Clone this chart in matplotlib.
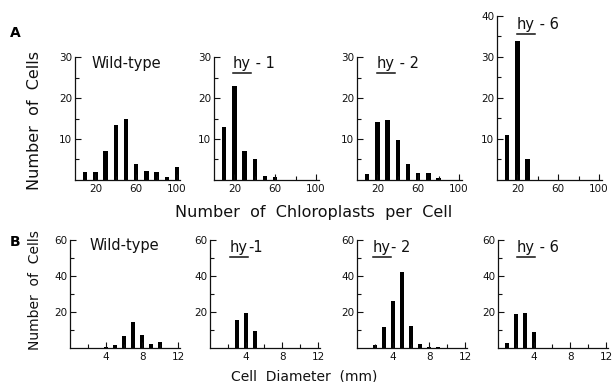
import numpy as np
import matplotlib
matplotlib.use("Agg")
import matplotlib.pyplot as plt
from matplotlib.lines import Line2D

# chloroplast number histograms (bins of 10)
chloro_bins = [10, 20, 30, 40, 50, 60, 70, 80, 90, 100]
wt_chloro = [2, 2, 7, 13.3, 15, 4, 2.3, 2, 0.8, 3.1]
hy1_chloro = [13, 23, 7, 5, 1, 0.8, 0, 0, 0, 0]
hy2_chloro = [1.5, 14.1, 14.7, 9.8, 3.9, 1.6, 1.6, 0.5, 0, 0]
hy6_chloro = [11, 34, 5, 0, 0, 0, 0, 0, 0, 0]

# cell diameter histograms
diam_bins = [1, 2, 3, 4, 5, 6, 7, 8, 9, 10, 11, 12]
wt_diam = [0, 0, 0, 0.4, 1.9, 6.5, 14.4, 7.4, 2.2, 3.1, 0, 0]
hy1_diam = [0, 0, 15.7, 19.4, 9.3, 0, 0, 0, 0, 0, 0, 0]
hy2_diam = [0, 1.5, 11.5, 26.3, 42, 12.4, 2.4, 0.5, 0.5, 0, 0, 0]
hy6_diam = [2.8, 19, 19.6, 8.7, 0, 0, 0, 0, 0, 0, 0, 0]

names = ["Wild-type", "hy - 1", "hy - 2", "hy - 6"]
names_b = ["Wild-type", "hy-1", "hy- 2", "hy - 6"]

W, H = 613, 382
plt.rcParams['font.family'] = ['DejaVu Sans']
fig = plt.figure(figsize=(W / 100, H / 100), dpi=100)
ink = "#111111"


def fx(x):
    return x / W


def fy(y):
    return 1 - y / H


def make_ax(left, top, bottom, width):
    ax = fig.add_axes([fx(left), fy(bottom), width / W, (bottom - top) / H])
    for s in ["top", "right"]:
        ax.spines[s].set_visible(False)
    for s in ["left", "bottom"]:
        ax.spines[s].set_linewidth(0.9)
        ax.spines[s].set_color(ink)
    ax.tick_params(which="both", direction="in", length=4, width=0.8,
                   colors=ink, labelsize=7.5, pad=2)
    ax.tick_params(axis="x", pad=3)
    ax.tick_params(which="minor", length=3)
    return ax


def title(x, y, name):
    if name.startswith("hy"):
        t1 = fig.text(fx(x), fy(y), "hy", fontsize=10.5, color=ink, va="baseline")
        fig.canvas.draw()
        bb = t1.get_window_extent(fig.canvas.get_renderer())
        fig.text(bb.x1 / W, fy(y), name[2:], fontsize=10.5, color=ink, va="baseline")
        ly = fy(y + 5)
        fig.add_artist(Line2D([bb.x0 / W, bb.x1 / W], [ly, ly], color=ink, lw=1.1))
    else:
        fig.text(fx(x), fy(y), name, fontsize=10.5, color=ink, va="baseline")


# row A
chloro = [wt_chloro, hy1_chloro, hy2_chloro, hy6_chloro]
lefts_a = [75, 214, 357, 497]
tops_a = [57, 57, 57, 16]
ymax_a = [30, 30, 30, 40]
title_a = [(92, 68), (233, 68), (377, 68), (517, 29)]
for i in range(4):
    ax = make_ax(lefts_a[i], tops_a[i], 180, 105)
    ax.bar(chloro_bins, chloro[i], width=4.2, color="black", linewidth=0)
    ax.set_xlim(0, 103)
    ax.set_ylim(0, ymax_a[i])
    ax.set_xticks([20, 60, 100])
    ax.set_xticks([40, 80], minor=True)
    ax.set_yticks(list(range(10, ymax_a[i] + 1, 10)))
    ax.set_yticks(list(range(5, ymax_a[i], 10)), minor=True)
    title(title_a[i][0], title_a[i][1], names[i])

# row B
diam = [wt_diam, hy1_diam, hy2_diam, hy6_diam]
lefts_b = [70, 210, 357, 498]
title_b = [(90, 250), (230, 252), (373, 252), (517, 252)]
for i in range(4):
    ax = make_ax(lefts_b[i], 240, 348, 110)
    ax.bar(diam_bins, diam[i], width=0.5, color="black", linewidth=0)
    ax.set_xlim(0, 12.2)
    ax.set_ylim(0, 60)
    ax.set_xticks([4, 8, 12])
    ax.set_xticks([2, 6, 10], minor=True)
    ax.set_yticks([20, 40, 60])
    ax.set_yticks([10, 30, 50], minor=True)
    title(title_b[i][0], title_b[i][1], names_b[i])

fig.text(fx(15), fy(33), "A", fontsize=10, fontweight="bold", ha="center", va="center")
fig.text(fx(15), fy(242), "B", fontsize=10, fontweight="bold", ha="center", va="center")
fig.text(fx(35), fy(120), "Number  of  Cells", fontsize=11.5, rotation=90,
         ha="center", va="center", color=ink)
fig.text(fx(35), fy(290), "Number  of  Cells", fontsize=10, rotation=90,
         ha="center", va="center", color=ink)
fig.text(fx(314), fy(213), "Number  of  Chloroplasts  per  Cell", fontsize=11.5,
         ha="center", va="center", color=ink)
fig.text(fx(304), fy(376), "Cell  Diameter  (mm)", fontsize=10,
         ha="center", va="center", color=ink)

fig.savefig("out.png", dpi=100, facecolor="white")
